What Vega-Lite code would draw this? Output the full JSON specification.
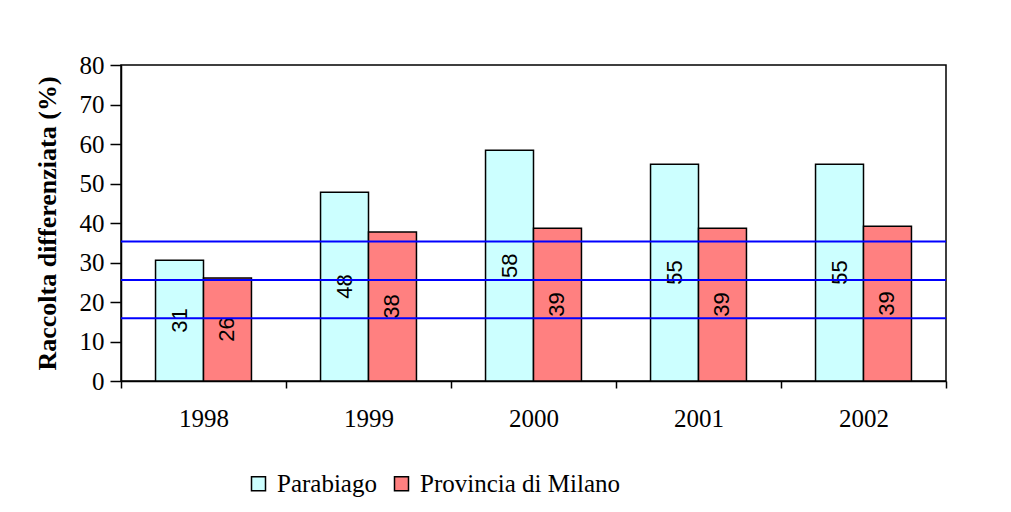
{
  "$schema": "https://vega.github.io/schema/vega-lite/v6.json",
  "width": 825,
  "height": 316,
  "autosize": "none",
  "padding": {"left": 121, "top": 65, "right": 65, "bottom": 131},
  "background": "white",
  "config": {"view": {"stroke": "black", "strokeWidth": 1.5}, "font": "Liberation Serif"},
  "datasets": {
    "bars": [
      {"year": "1998", "series": "Parabiago", "v": 30.6},
      {"year": "1998", "series": "Provincia di Milano", "v": 26.1},
      {"year": "1999", "series": "Parabiago", "v": 47.8},
      {"year": "1999", "series": "Provincia di Milano", "v": 37.7},
      {"year": "2000", "series": "Parabiago", "v": 58.4},
      {"year": "2000", "series": "Provincia di Milano", "v": 38.7},
      {"year": "2001", "series": "Parabiago", "v": 54.9},
      {"year": "2001", "series": "Provincia di Milano", "v": 38.7},
      {"year": "2002", "series": "Parabiago", "v": 54.9},
      {"year": "2002", "series": "Provincia di Milano", "v": 39.2}
    ],
    "lines": [{"v": 15.9}, {"v": 25.6}, {"v": 35.3}]
  },
  "layer": [
    {
      "data": {"name": "bars"},
      "mark": {"type": "bar", "stroke": "black", "strokeWidth": 1.5},
      "encoding": {
        "x": {"field": "year", "type": "nominal", "scale": {"paddingInner": 0, "paddingOuter": 0},
          "axis": {"title": null, "labelAngle": 0, "labelFontSize": 25, "labelColor": "black", "labelFont": "Liberation Serif",
            "tickBand": "extent", "tickSize": 7, "tickColor": "black", "tickWidth": 1.5, "domainColor": "black", "domainWidth": 1.5, "labelPadding": 18}},
        "xOffset": {"field": "series", "type": "nominal", "scale": {"paddingOuter": 0.72, "paddingInner": 0}},
        "y": {"field": "v", "type": "quantitative", "scale": {"domain": [0, 80], "nice": false},
          "axis": {"title": "Raccolta differenziata (%)", "titleFont": "Liberation Serif", "titleFontWeight": "bold", "titleFontSize": 26,
            "titleColor": "black", "titlePadding": 19, "labelFontSize": 25, "labelColor": "black", "labelFont": "Liberation Serif",
            "tickColor": "black", "tickWidth": 1.5, "domainColor": "black", "domainWidth": 1.5, "tickSize": 11, "labelPadding": 6,
            "values": [0, 10, 20, 30, 40, 50, 60, 70, 80], "grid": false}},
        "color": {"field": "series", "type": "nominal",
          "scale": {"domain": ["Parabiago", "Provincia di Milano"], "range": ["#CCFFFF", "#FF8080"]},
          "legend": {"title": null, "orient": "none", "direction": "horizontal", "legendX": 125, "legendY": 406,
            "symbolType": "square", "symbolSize": 196, "symbolStrokeColor": "black", "symbolStrokeWidth": 1.5,
            "labelFontSize": 25, "labelColor": "black", "labelFont": "Liberation Serif", "labelLimit": 0, "columnPadding": 12, "labelOffset": 6}}
      }
    },
    {
      "data": {"name": "bars"},
      "mark": {"type": "text", "angle": 270, "font": "Liberation Sans", "fontSize": 22, "baseline": "middle", "align": "center", "color": "black"},
      "encoding": {
        "x": {"field": "year", "type": "nominal"},
        "xOffset": {"field": "series", "type": "nominal"},
        "y": {"field": "v", "type": "quantitative", "scale": {"domain": [0, 160], "nice": false}, "axis": null},
        "text": {"field": "v", "type": "quantitative", "format": ".0f"}
      }
    },
    {
      "data": {"name": "lines"},
      "mark": {"type": "rule", "color": "#0000FF", "strokeWidth": 2},
      "encoding": {
        "y": {"field": "v", "type": "quantitative", "scale": {"domain": [0, 80], "nice": false}, "axis": null}
      }
    }
  ],
  "resolve": {"scale": {"y": "independent"}}
}
